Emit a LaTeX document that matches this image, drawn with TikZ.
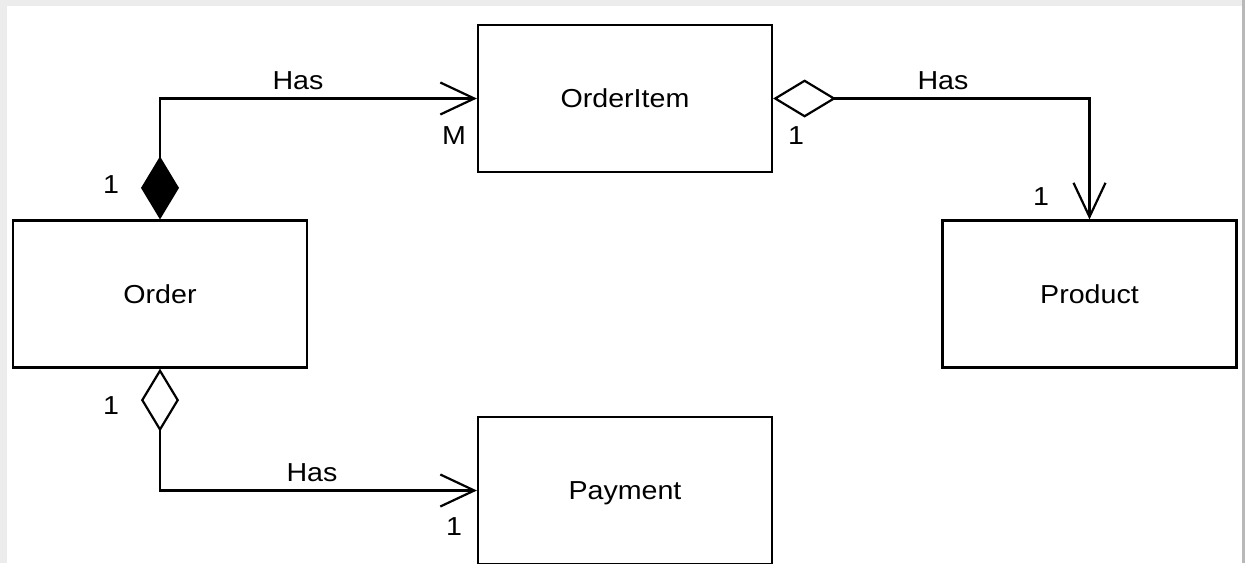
\documentclass[tikz,border=0pt]{standalone}
\usepackage{fontspec}
\newfontfamily\labfont[FakeStretch=1.1]{Liberation Sans}
\usetikzlibrary{arrows.meta}
\definecolor{bandgray}{HTML}{ECECEC}
\definecolor{rightgray}{HTML}{B8B8B8}
\tikzset{
  cls/.style={draw=black, line width=2.2pt, fill=white, minimum width=294pt, minimum height=147pt, inner sep=0pt, text depth=0pt, font=\labfont\fontsize{26pt}{30pt}\selectfont},
  lab/.style={inner sep=0pt, font=\labfont\fontsize{26pt}{30pt}\selectfont},
  conn/.style={line width=2.2pt, draw=black},
  comp/.style={conn, {Diamond[length=63pt,width=38pt,fill=black]}-{Straight Barb[length=34pt,width=32pt,line width=2.2pt]}},
  agg/.style={conn, {Diamond[length=63pt,width=38pt,open,line width=2.2pt]}-{Straight Barb[length=34pt,width=32pt,line width=2.2pt]}}
}
\begin{document}
\begin{tikzpicture}[x=1pt,y=-1pt]
\useasboundingbox (0,0) rectangle (1245,563);
\clip (0,0) rectangle (1245,563);
\fill[bandgray] (0,0) rectangle (1245,563);
\fill[rightgray] (1242,0) rectangle (1245,563);
\fill[white] (7,6) rectangle (1242,570);

\node[cls] (orderitem) at (625,98.5) {OrderItem};
\node[cls] (order) at (160,294) {Order};
\node[cls] (product) at (1089.5,294) {Product};
\node[cls] (payment) at (625,490.5) {Payment};

\draw[comp] (order.north) |- (orderitem.west);
\draw[agg] (orderitem.east) -| (product.north);
\draw[agg] (order.south) |- (payment.west);

\node[lab] (l1) at (298,81) {Has};
\node[lab] (l2) at (943,81) {Has};
\node[lab] (l3) at (312,473) {Has};
\node[lab] (m1) at (111,185) {1};
\node[lab] (m2) at (454,136) {M};
\node[lab] (m3) at (796,136) {1};
\node[lab] (m4) at (1041,197) {1};
\node[lab] (m5) at (111,406) {1};
\node[lab] (m6) at (454,527) {1};
\end{tikzpicture}
\end{document}
